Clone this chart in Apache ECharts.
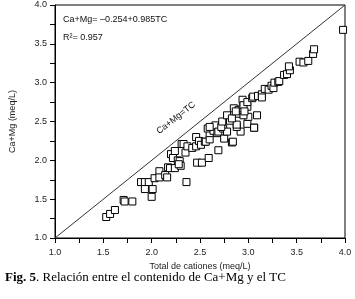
<!DOCTYPE html>
<html>
<head>
<meta charset="utf-8">
<script src="https://cdn.jsdelivr.net/npm/echarts@6/dist/echarts.min.js"></script>
<style>html,body{margin:0;padding:0;background:#fff}#c{width:355px;height:299px}</style>
</head>
<body>
<div id="c"></div>
<script>
const tcValues = [1.53,1.57,1.62,1.71,1.72,1.80,1.89,1.93,1.97,1.93,2.01,2.00,2.03,2.08,2.08,2.14,2.16,2.17,2.19,2.24,
  2.20,2.24,2.22,2.27,2.29,2.31,2.30,2.28,2.36,2.35,2.33,2.37,2.42,2.46,2.46,2.49,2.47,2.52,2.51,2.59,
  2.55,2.56,2.60,2.60,2.58,2.64,2.69,2.68,2.66,2.69,2.74,2.75,2.78,2.72,2.73,2.81,2.83,2.84,2.92,2.88,
  2.88,2.99,3.06,2.60,2.78,2.85,2.88,2.83,3.00,3.09,2.95,2.99,2.90,2.94,2.94,2.95,2.99,3.04,3.05,3.10,
  3.14,3.14,3.17,3.21,3.24,3.26,3.27,3.31,3.32,3.37,3.40,3.43,3.42,3.53,3.57,3.62,3.67,3.68,3.98,2.87,2.96,3.06];
const caMgValues = [1.27,1.31,1.36,1.49,1.47,1.47,1.72,1.72,1.72,1.63,1.63,1.53,1.77,1.86,1.78,1.81,1.78,1.91,1.90,1.90,
  2.08,2.12,2.03,2.00,1.99,2.21,1.93,1.95,1.72,2.10,2.21,2.18,2.16,2.30,2.18,2.25,1.97,1.97,2.20,2.03,
  2.24,2.24,2.27,2.35,2.41,2.38,2.13,2.35,2.45,2.37,2.41,2.28,2.37,2.43,2.50,2.51,2.23,2.24,2.37,2.43,
  2.46,2.47,2.42,2.43,2.58,2.67,2.60,2.54,2.56,2.58,2.58,2.69,2.65,2.78,2.67,2.71,2.75,2.80,2.82,2.83,
  2.85,2.81,2.92,2.91,2.96,2.93,3.00,3.01,3.02,3.10,3.11,3.16,3.21,3.27,3.26,3.28,3.37,3.43,3.68,2.63,2.63,2.42];
const lineX = [1.0, 4.0];
const lineY = [1.0, 4.0];
const equationText = 'Ca+Mg= \u20130.254+0.985TC';
const r2Text = 'R\u00b2= 0.957';
const lineLabel = 'Ca+Mg=TC';
const xTitle = 'Total de cationes (meq/L)';
const yTitle = 'Ca+Mg (meq/L)';
const captionBold = 'Fig. 5';
const captionRest = '. Relaci\u00f3n entre el contenido de Ca+Mg y el TC';

const chart = echarts.init(document.getElementById('c'), null, {renderer: 'canvas'});
const font = 'Liberation Sans, Arial, sans-serif';
const axisCommon = {
  min: 1.0, max: 4.0, interval: 0.5,
  axisLine: {show: true, lineStyle: {color: '#000', width: 1}},
  axisTick: {show: true, inside: false, length: 5, lineStyle: {color: '#000'}},
  minorTick: {show: true, splitNumber: 2, length: 5, lineStyle: {color: '#000'}},
  splitLine: {show: false},
  axisLabel: {color: '#222', fontSize: 9, fontFamily: font, formatter: v => v.toFixed(1)},
  nameLocation: 'middle',
  nameTextStyle: {color: '#222', fontSize: 9, fontFamily: font}
};
chart.setOption({
  animation: false,
  backgroundColor: '#fff',
  grid: {left: 49, right: 10, top: 5, bottom: 61, show: true, borderColor: '#000', borderWidth: 1},
  xAxis: Object.assign({}, axisCommon, {type: 'value', name: xTitle, nameGap: 22,
    axisLabel: Object.assign({}, axisCommon.axisLabel, {margin: 10})}),
  yAxis: Object.assign({}, axisCommon, {type: 'value', name: yTitle, nameGap: 38,
    axisLabel: Object.assign({}, axisCommon.axisLabel, {margin: 8})}),
  series: [
    {
      type: 'line', data: lineX.map((x, i) => [x, lineY[i]]), symbol: 'none',
      lineStyle: {color: '#333', width: 1}, silent: true, z: 1
    },
    {
      type: 'scatter', data: tcValues.map((x, i) => [x, caMgValues[i]]),
      symbol: 'rect', symbolSize: 7,
      itemStyle: {color: '#fff', borderColor: '#000', borderWidth: 1, opacity: 1}, z: 2
    }
  ],
  graphic: [
    {type: 'text', left: 63, top: 15, style: {text: equationText, fontSize: 9, fontFamily: font, fill: '#111'}},
    {type: 'text', left: 63, top: 33, style: {text: r2Text, fontSize: 9, fontFamily: font, fill: '#111'}},
    {type: 'text', x: 176, y: 118, rotation: 38.2 * Math.PI / 180,
      style: {text: lineLabel, fontSize: 9, fontFamily: font, fill: '#111', align: 'center', verticalAlign: 'middle'}},
    {type: 'text', left: 5, top: 271, style: {
      text: '{b|' + captionBold + '}{r|' + captionRest + '}',
      rich: {
        b: {fontSize: 13, fontWeight: 'bold', fontFamily: 'Liberation Serif, Times New Roman, serif', fill: '#000'},
        r: {fontSize: 13, fontFamily: 'Liberation Serif, Times New Roman, serif', fill: '#000'}
      }}}
  ]
});
</script>
</body>
</html>
